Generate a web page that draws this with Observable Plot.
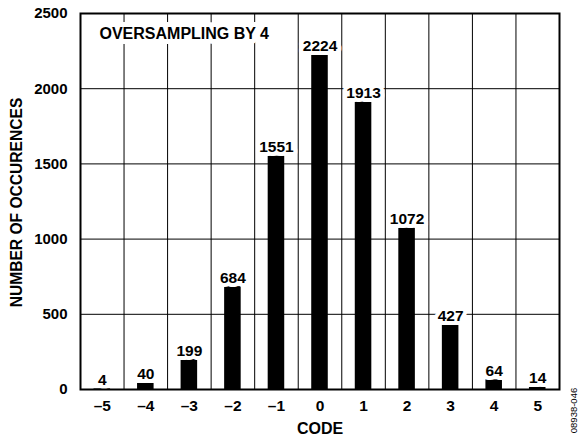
<!DOCTYPE html>
<html><head>
<meta charset="utf-8">
<script src="https://cdn.jsdelivr.net/npm/d3@7"></script>
<script src="https://cdn.jsdelivr.net/npm/@observablehq/plot@0.6"></script>
<style>body{margin:0;background:#fff}</style>
</head><body><div id="chart"></div>
<script>
const codes = [-5, -4, -3, -2, -1, 0, 1, 2, 3, 4, 5];
const counts = [4, 40, 199, 684, 1551, 2224, 1913, 1072, 427, 64, 14];
const codeLabels = ["–5", "–4", "–3", "–2", "–1", "0", "1", "2", "3", "4", "5"];
const yTicks = [0, 500, 1000, 1500, 2000, 2500];
const title = "OVERSAMPLING BY 4";
const yLabel = "NUMBER OF OCCURENCES";
const xLabel = "CODE";
const figId = "08938-046";

const data = codes.map((c, i) => ({code: c, count: counts[i], label: String(counts[i])}));
const boundaries = codes.slice(1).map(c => c - 0.5);
const font = "'Liberation Sans', Arial, Helvetica, sans-serif";

const chart = Plot.plot({
  width: 579,
  height: 438,
  marginLeft: 80,
  marginRight: 20,
  marginTop: 13,
  marginBottom: 49,
  style: {fontFamily: font, fontSize: "15px", fontWeight: "bold", background: "white", color: "black"},
  x: {domain: [-5.5, 5.5]},
  y: {domain: [0, 2500]},
  marks: [
    Plot.gridY(yTicks, {stroke: "black", strokeOpacity: 1, strokeWidth: 1}),
    Plot.ruleX(boundaries, {stroke: "black", strokeWidth: 1}),
    Plot.rectY(data, {x1: d => d.code - 0.5, x2: d => d.code + 0.5, y: "count", fill: "black", insetLeft: 13.5, insetRight: 13.5}),
    Plot.text(data, {x: "code", y: "count", text: "label", dy: -4, lineAnchor: "bottom", fill: "black", stroke: "white", strokeWidth: 8, fontSize: 15.5, fontWeight: "bold"}),
    Plot.text([title], {frameAnchor: "top-left", dx: 19, dy: 14, lineAnchor: "top", textAnchor: "start", fill: "black", stroke: "white", strokeWidth: 10, fontSize: 16, fontWeight: "bold"}),
    Plot.axisX(codes, {tickSize: 0, tickPadding: 10, tickFormat: d => codeLabels[codes.indexOf(d)], label: null, fontSize: 15.5}),
    Plot.axisY(yTicks, {tickSize: 0, tickPadding: 13, tickFormat: d => String(d), label: null, fontSize: 15}),
    Plot.text([xLabel], {frameAnchor: "bottom", dy: 39, lineAnchor: "middle", textAnchor: "middle", fontSize: 16, fontWeight: "bold"}),
    Plot.text([yLabel], {frameAnchor: "left", dx: -63.5, dy: 1, rotate: -90, lineAnchor: "middle", textAnchor: "middle", fontSize: 15.6, fontWeight: "bold"}),
    Plot.text([figId], {frameAnchor: "bottom-right", dx: 14, dy: 21, rotate: -90, lineAnchor: "middle", textAnchor: "middle", fontSize: 9.5, fontWeight: "normal"}),
    Plot.frame({stroke: "black", strokeWidth: 2})
  ]
});
document.getElementById("chart").appendChild(chart);
</script>
</body></html>
